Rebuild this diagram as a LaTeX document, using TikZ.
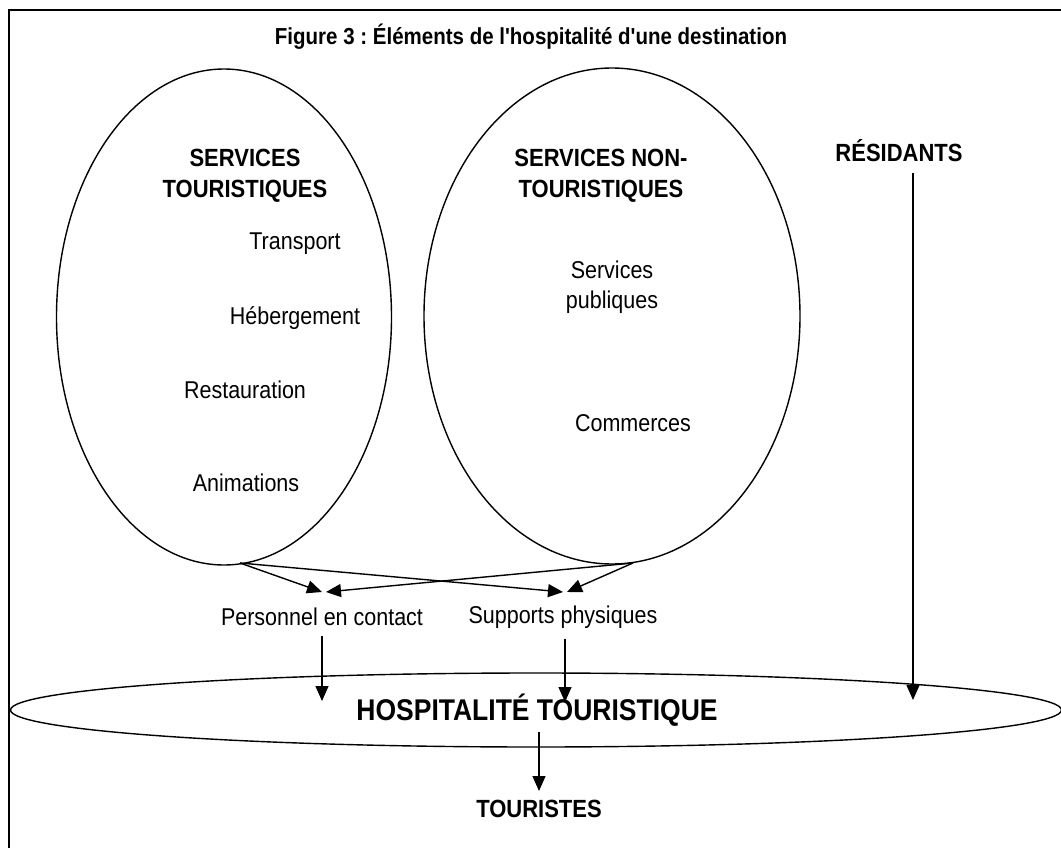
\documentclass[tikz,border=0pt]{standalone}
\usepackage{fontspec}
\setmainfont{Liberation Sans}
\usetikzlibrary{shapes.geometric,arrows.meta}
\newcommand{\tl}[1]{\scalebox{1}[1.13]{#1}}
\frenchspacing
\begin{document}
\begin{tikzpicture}[x=1pt,y=-1pt,
  oval/.style={draw,line width=1.4pt,ellipse,inner sep=0pt},
  conn/.style={line width=1.4pt,-{Triangle[length=15pt,width=13pt]}},
  head/.style={font=\fontsize{22}{31}\selectfont\bfseries,align=center,inner sep=0pt},
  item/.style={font=\fontsize{21.5}{30}\selectfont,align=center,inner sep=0pt},
  lab/.style={inner sep=0pt}]
\useasboundingbox (0,0) rectangle (1061,848);
\fill[white] (0,0) rectangle (1061,848);
% frame (only top and left visible)
\draw[line width=2pt] (9,848) -- (9,10) -- (1061,10);
% title
\node[lab,font=\fontsize{20.5}{24}\selectfont\bfseries] (title) at (531,37) {\tl{Figure 3 : Éléments de l\textquotesingle hospitalité d\textquotesingle une destination}};
% ellipses
\node[oval,minimum width=335pt,minimum height=496pt] (e1) at (224,317) {};
\node[oval,minimum width=376pt,minimum height=496pt] (e2) at (612,316) {};
\node[oval,minimum width=1051pt,minimum height=74pt] (e3) at (536,710) {};
% ellipse 1 texts
\node[head] (st) at (245,176) {\tl{SERVICES}\\\tl{TOURISTIQUES}};
\node[item] (tr) at (295,244) {\tl{Transport}};
\node[item] (heb) at (295,318) {\tl{Hébergement}};
\node[item] (res) at (245,390) {\tl{Restauration}};
\node[item] (ani) at (246,483) {\tl{Animations}};
% ellipse 2 texts
\node[head] (snt) at (601,176) {\tl{SERVICES NON-}\\\tl{TOURISTIQUES}};
\node[item] (sp) at (612,287) {\tl{Services}\\\tl{publiques}};
\node[item] (com) at (633,423) {\tl{Commerces}};
% residants
\node[head] (resid) at (899,151) {\tl{RÉSIDANTS}};
% lower labels
\node[item] (pc) at (322,617) {\tl{Personnel en contact}};
\node[item] (sup) at (563,617) {\tl{Supports physiques}};
\node[lab,font=\fontsize{26.5}{30}\selectfont\bfseries] (ht) at (537,710) {\tl{HOSPITALITÉ TOURISTIQUE}};
\node[head] (tour) at (539,809) {\tl{TOURISTES}};
% connector anchors
\coordinate (a1) at (240,563);
\coordinate (a2) at (633,563);
\coordinate (pcT) at (322,592);
\coordinate (pcT2) at (326,592);
\coordinate (supT) at (563,592);
\coordinate (supT2) at (567,592);
\coordinate (pcD) at (322,701);
\coordinate (supD) at (565,702);
\coordinate (resD) at (913,700);
\coordinate (resU) at (913,173);
\coordinate (htB) at (539,732);
\coordinate (tourT) at (539,791);
% connectors
\draw[conn] (a1) -- (pcT);
\draw[conn] (a1) -- (supT);
\draw[conn] (a2) -- (pcT2);
\draw[conn] (a2) -- (supT2);
\draw[conn] (pc.south -| pcD) ++(0,10) -- (pcD);
\draw[conn] (sup.south -| supD) ++(0,10) -- (supD);
\draw[conn] (resU) -- (resD);
\draw[conn] (htB) -- (tourT);
\end{tikzpicture}
\end{document}
